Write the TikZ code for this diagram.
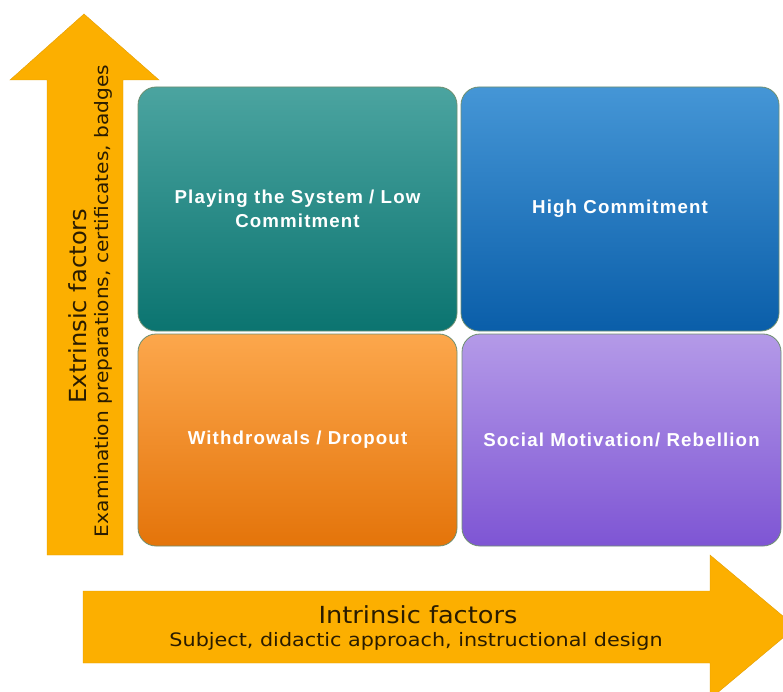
\documentclass[tikz,border=0pt]{standalone}
\usepackage{fontspec}
\setmainfont{DejaVu Sans}
\newfontfamily\boxfont[LetterSpace=6]{Liberation Sans}
\newfontfamily\htitlefont[FakeStretch=1.09]{DejaVu Sans}
\newfontfamily\vtitlefont[FakeStretch=1.03]{DejaVu Sans}
\newfontfamily\hsubfont[FakeStretch=1.12]{DejaVu Sans}
\newfontfamily\vsubfont[FakeStretch=1.09]{DejaVu Sans}
\definecolor{arrowfill}{HTML}{FCAF00}
\definecolor{arrowtext}{HTML}{2A1C00}
\definecolor{boxedge}{HTML}{6E8F70}
\definecolor{tlA}{HTML}{4BA4A0}\definecolor{tlB}{HTML}{0B7470}
\definecolor{trA}{HTML}{4596D6}\definecolor{trB}{HTML}{0A5EA9}
\definecolor{blA}{HTML}{FCA74C}\definecolor{blB}{HTML}{E4740A}
\definecolor{brA}{HTML}{B49AE8}\definecolor{brB}{HTML}{7E55D4}
\tikzset{
  quad/.style={rounded corners=18pt, draw=boxedge, line width=0.8pt,
    text=white, font=\boxfont\bfseries\fontsize{18.7}{24}\selectfont,
    align=center, inner sep=0pt},
  bigarrow/.style={fill=arrowfill, draw=arrowfill!90!black, line width=0.4pt},
  axtitle/.style={text=arrowtext, inner sep=0pt},
  axsub/.style={text=arrowtext, inner sep=0pt},
}
\begin{document}
\begin{tikzpicture}[x=1pt,y=-1pt]
\useasboundingbox (0,0) rectangle (783,692);
\begin{scope}
\clip (0,0) rectangle (783,692);
% vertical arrow
\path[bigarrow] (47,555) -- (47,80) -- (10,80) -- (84,14) -- (159,80) -- (123,80) -- (123,555) -- cycle;
% horizontal arrow
\path[bigarrow] (83,591) -- (710,591) -- (710,555) -- (796,627) -- (710,699) -- (710,663) -- (83,663) -- cycle;
\end{scope}
% quadrants
\path[quad, top color=tlA, bottom color=tlB] (138,87) rectangle (457,331);
\node[quad, draw=none] (tl) at (297.5,209) {Playing the System / Low\\Commitment};
\path[quad, top color=trA, bottom color=trB] (461,87) rectangle (779,331);
\node[quad, draw=none] (tr) at (620,209) {High Commitment};
\path[quad, top color=blA, bottom color=blB] (138,334) rectangle (457,546);
\node[quad, draw=none] (bl) at (297.5,440) {Withdrowals / Dropout};
\path[quad, top color=brA, bottom color=brB] (462,334) rectangle (781,546);
\node[quad, draw=none] (br) at (621.5,440) {Social Motivation/ Rebellion};
% axis labels
\node[axtitle, rotate=90, font=\vtitlefont\fontsize{23.5}{28}\selectfont] (ext) at (78,306) {Extrinsic factors};
\node[axsub, rotate=90, font=\vsubfont\fontsize{18.5}{21}\selectfont] (extsub) at (103,301) {Examination preparations, certificates, badges};
\node[axtitle, font=\htitlefont\fontsize{23.5}{28}\selectfont] (intr) at (418,615) {Intrinsic factors};
\node[axsub, font=\hsubfont\fontsize{18.5}{21}\selectfont] (intrsub) at (416,641) {Subject, didactic approach, instructional design};
\end{tikzpicture}
\end{document}
